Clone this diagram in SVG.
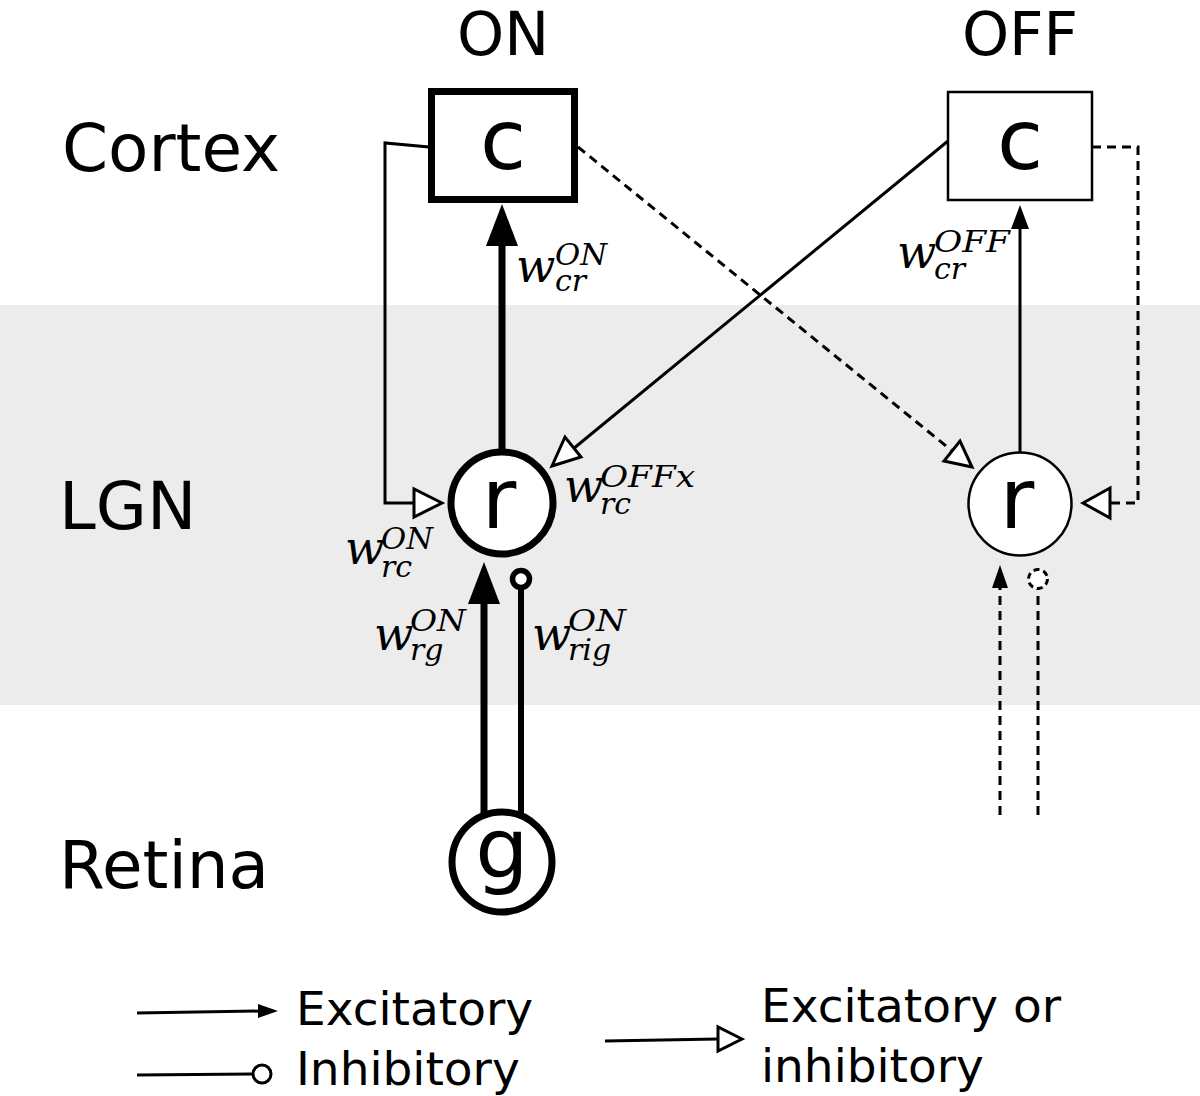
<svg xmlns="http://www.w3.org/2000/svg" width="1200" height="1096" viewBox="0 0 1200 1096">
<style>
.lbl{font-family:"DejaVu Sans","Liberation Sans",sans-serif;font-size:66px;fill:#000}
.top{font-family:"DejaVu Sans","Liberation Sans",sans-serif;font-size:60px;fill:#000;text-anchor:middle}
.node{font-family:"DejaVu Sans","Liberation Sans",sans-serif;font-size:84px;fill:#000;text-anchor:middle}
.leg{font-family:"DejaVu Sans","Liberation Sans",sans-serif;font-size:47px;fill:#000}
.m{font-family:"DejaVu Serif","Liberation Serif",serif;font-style:italic;fill:#000}
.w{font-size:46px}
.s{font-size:30px}
.ln{fill:none;stroke:#000;stroke-width:3}
.thick{fill:none;stroke:#000;stroke-width:7}
.dash{stroke-dasharray:9 6}
.open{fill:#fff;stroke:#000;stroke-width:3;stroke-linejoin:miter}
.fill{fill:#000;stroke:none}
</style>
<rect x="0" y="305" width="1200" height="400" fill="#ececec"/>
<g id="layer-labels">
<text class="top" x="503" y="55">ON</text>
<text class="top" x="1020" y="55">OFF</text>
<text class="lbl" x="62" y="171">Cortex</text>
<text class="lbl" x="59" y="529">LGN</text>
<text class="lbl" x="59" y="888">Retina</text>
</g>
<g id="connectors">
<polyline class="ln" points="429,147 385,143 385,503 414,503"/>
<polygon class="open" points="442,503 414,489 414,517"/>
<line class="thick" x1="502" y1="452" x2="502" y2="240"/>
<polygon class="fill" points="502,204 486,246 518,246"/>
<line class="ln" x1="948" y1="141" x2="573" y2="449"/>
<polygon class="open" points="552,466 581,457 565,437"/>
<line class="ln dash" x1="578" y1="147" x2="951" y2="450"/>
<polygon class="open" points="972,467 944,461 960,441"/>
<line class="ln" x1="1020" y1="452" x2="1020" y2="225"/>
<polygon class="fill" points="1020,205 1011,229 1029,229"/>
<polyline class="ln dash" points="1092,147 1138,147 1138,503 1110,503"/>
<polygon class="open" points="1083,503 1110,488 1110,518"/>
<line class="thick" x1="484" y1="830" x2="484" y2="598"/>
<polygon class="fill" points="484,562 468,604 500,604"/>
<line class="ln" style="stroke-width:6" x1="521" y1="830" x2="521" y2="588"/>
<circle cx="521" cy="579" r="8.5" fill="#fff" stroke="#000" stroke-width="5.5"/>
<line class="ln dash" x1="1000" y1="815" x2="1000" y2="586"/>
<polygon class="fill" points="1000,565 992,588 1008,588"/>
<line class="ln dash" x1="1038" y1="815" x2="1038" y2="589"/>
<circle cx="1038" cy="579" r="9.5" fill="#fff" stroke="#000" stroke-width="3" stroke-dasharray="6 4"/>
</g>
<g id="node-c-on">
<rect x="431.5" y="91.5" width="143" height="108" fill="#fff" stroke="#000" stroke-width="7"/>
<text class="node" x="503" y="169">c</text>
</g>
<g id="node-c-off">
<rect x="948" y="92" width="144" height="108" fill="#fff" stroke="#000" stroke-width="2.5"/>
<text class="node" x="1020" y="169">c</text>
</g>
<g id="node-r-on">
<circle cx="502" cy="503" r="51" fill="#fff" stroke="#000" stroke-width="7"/>
<text class="node" x="499" y="528">r</text>
</g>
<g id="node-r-off">
<circle cx="1020" cy="504" r="51.5" fill="#fff" stroke="#000" stroke-width="2.5"/>
<text class="node" x="1017" y="528">r</text>
</g>
<g id="node-g-on">
<circle cx="502" cy="862" r="50" fill="#fff" stroke="#000" stroke-width="7"/>
<text class="node" x="502" y="878">g</text>
</g>
<g id="weights">
<text class="m"><tspan class="w" x="516" y="282">w</tspan><tspan class="s" x="555" y="265" textLength="52" lengthAdjust="spacingAndGlyphs">ON</tspan><tspan class="s" x="555" y="291">cr</tspan></text>
<text class="m"><tspan class="w" x="897" y="268">w</tspan><tspan class="s" x="934" y="252" textLength="76" lengthAdjust="spacingAndGlyphs">OFF</tspan><tspan class="s" x="934" y="279">cr</tspan></text>
<text class="m"><tspan class="w" x="564" y="502">w</tspan><tspan class="s" x="600" y="487" textLength="95" lengthAdjust="spacingAndGlyphs">OFFx</tspan><tspan class="s" x="600" y="514">rc</tspan></text>
<text class="m"><tspan class="w" x="345" y="564">w</tspan><tspan class="s" x="381" y="549" textLength="52" lengthAdjust="spacingAndGlyphs">ON</tspan><tspan class="s" x="381" y="577">rc</tspan></text>
<text class="m"><tspan class="w" x="374" y="650">w</tspan><tspan class="s" x="410" y="631" textLength="56" lengthAdjust="spacingAndGlyphs">ON</tspan><tspan class="s" x="410" y="660">rg</tspan></text>
<text class="m"><tspan class="w" x="532" y="650">w</tspan><tspan class="s" x="568" y="631" textLength="58" lengthAdjust="spacingAndGlyphs">ON</tspan><tspan class="s" x="568" y="660">rig</tspan></text>
</g>
<g id="legend">
<line class="ln" x1="137" y1="1013" x2="262" y2="1011"/>
<polygon class="fill" points="278,1011 258,1004 258,1018"/>
<text class="leg" x="296" y="1025">Excitatory</text>
<line class="ln" x1="137" y1="1075" x2="253" y2="1074"/>
<circle cx="262" cy="1074" r="9" fill="#fff" stroke="#000" stroke-width="3"/>
<text class="leg" x="296" y="1085">Inhibitory</text>
<line class="ln" x1="605" y1="1041" x2="718" y2="1039"/>
<polygon class="open" points="742,1039 718,1027 718,1051"/>
<text class="leg" x="761" y="1022">Excitatory or</text>
<text class="leg" x="761" y="1082">inhibitory</text>
</g>
</svg>
